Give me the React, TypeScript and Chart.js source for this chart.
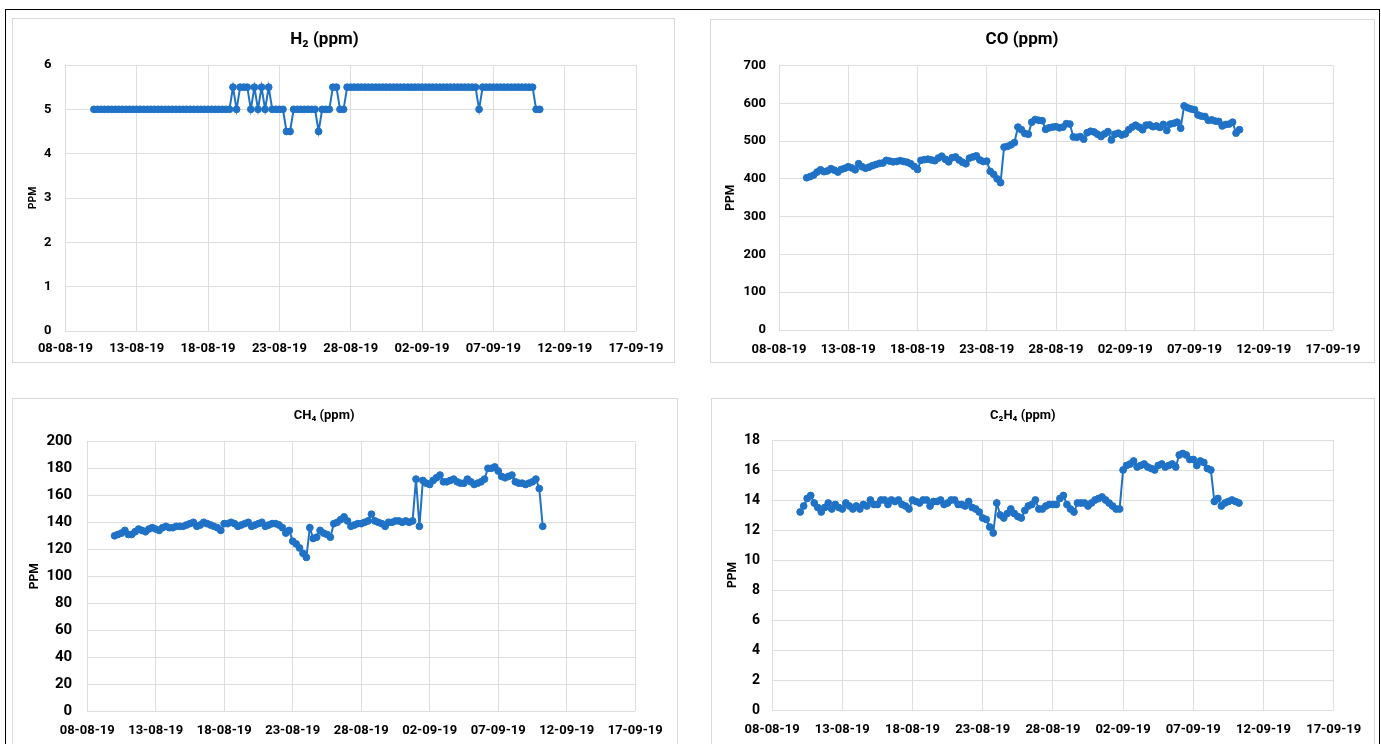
import React, { useEffect, useRef } from "react";
import { Chart, registerables } from "chart.js";

Chart.register(...registerables);

// ---------- data ----------
const xTickLabels = [
  "08-08-19", "13-08-19", "18-08-19", "23-08-19", "28-08-19",
  "02-09-19", "07-09-19", "12-09-19", "17-09-19",
];
// x axis is "days after 08-08-19"; readings every 6 h starting 10-08-19
const firstSampleDay = 2;
const sampleStepDays = 0.25;

const h2Values = [
  5, 5, 5, 5,   5, 5, 5, 5,   5, 5, 5, 5,   5, 5, 5, 5,
  5, 5, 5, 5,   5, 5, 5, 5,   5, 5, 5, 5,   5, 5, 5, 5,
  5, 5, 5, 5,   5, 5, 5, 5.5, 5, 5.5, 5.5, 5.5, 5, 5.5, 5, 5.5,
  5, 5.5, 5, 5, 5, 5, 4.5, 4.5, 5, 5, 5, 5,  5, 5, 5, 4.5,
  5, 5, 5, 5.5, 5.5, 5, 5, 5.5, 5.5, 5.5, 5.5, 5.5, 5.5, 5.5, 5.5, 5.5,
  5.5, 5.5, 5.5, 5.5, 5.5, 5.5, 5.5, 5.5, 5.5, 5.5, 5.5, 5.5, 5.5, 5.5, 5.5, 5.5,
  5.5, 5.5, 5.5, 5.5, 5.5, 5.5, 5.5, 5.5, 5.5, 5.5, 5.5, 5.5, 5, 5.5, 5.5, 5.5,
  5.5, 5.5, 5.5, 5.5, 5.5, 5.5, 5.5, 5.5, 5.5, 5.5, 5.5, 5.5, 5, 5,
];

const coValues = [
  403, 406, 410, 418,
  424, 419, 421, 427,
  423, 418, 425, 428,
  432, 429, 424, 440,
  432, 428, 431, 435,
  438, 441, 442, 449,
  447, 445, 446, 448,
  446, 444, 440, 433,
  425, 449, 451, 452,
  450, 448, 455, 460,
  452, 445, 456, 458,
  450, 444, 440, 455,
  458, 461, 450, 446,
  447, 420, 412, 400,
  390, 484, 486, 490,
  496, 537, 530, 520,
  518, 550, 557, 555,
  554, 531, 535, 537,
  538, 535, 537, 546,
  545, 511, 510, 512,
  505, 522, 526, 524,
  518, 512, 519, 525,
  503, 518, 521, 516,
  519, 530, 537, 542,
  537, 530, 542, 543,
  538, 540, 536, 544,
  528, 545, 547, 550,
  534, 593, 588, 585,
  583, 569, 566, 565,
  555, 556, 553, 552,
  540, 544, 545, 550,
  521, 530,
];

const ch4Values = [
  130, 131, 132, 134,
  131, 131, 133, 135,
  134, 133, 135, 136,
  135, 134, 136, 137,
  136, 136, 137, 137,
  137, 138, 139, 140,
  137, 138, 140, 139,
  138, 137, 136, 134,
  139, 139, 140, 139,
  137, 138, 139, 140,
  137, 138, 139, 140,
  137, 138, 139, 139,
  138, 136, 132, 134,
  126, 124, 121, 117,
  114, 136, 128, 129,
  134, 132, 131, 129,
  139, 140, 142, 144,
  141, 137, 138, 139,
  139, 140, 141, 146,
  141, 140, 139, 137,
  140, 140, 141, 141,
  140, 141, 140, 141,
  172, 137, 171, 169,
  168, 171, 173, 175,
  170, 170, 171, 172,
  170, 169, 169, 172,
  170, 168, 169, 170,
  172, 180, 180, 181,
  178, 174, 173, 174,
  175, 170, 169, 169,
  168, 169, 170, 172,
  165, 137,
];

const c2h4Values = [
  13.2, 13.6, 14.1, 14.3,
  13.8, 13.5, 13.2, 13.5,
  13.8, 13.4, 13.7, 13.5,
  13.4, 13.8, 13.6, 13.4,
  13.6, 13.4, 13.7, 13.6,
  14.0, 13.7, 13.7, 14.0,
  14.0, 13.7, 14.0, 13.9,
  14.0, 13.7, 13.6, 13.4,
  14.0, 13.9, 13.8, 14.0,
  14.0, 13.6, 13.9, 13.9,
  14.0, 13.7, 13.8, 14.0,
  14.0, 13.7, 13.7, 13.6,
  13.9, 13.5, 13.4, 13.2,
  12.8, 12.7, 12.2, 11.8,
  13.8, 13.0, 12.8, 13.1,
  13.4, 13.1, 12.9, 12.8,
  13.3, 13.6, 13.7, 14.0,
  13.4, 13.4, 13.6, 13.7,
  13.7, 13.7, 14.1, 14.3,
  13.7, 13.4, 13.2, 13.8,
  13.8, 13.8, 13.6, 13.8,
  14.0, 14.1, 14.2, 14.0,
  13.8, 13.6, 13.4, 13.4,
  16.0, 16.3, 16.4, 16.6,
  16.2, 16.3, 16.4, 16.2,
  16.1, 16.0, 16.3, 16.4,
  16.2, 16.3, 16.4, 16.2,
  17.0, 17.1, 17.0, 16.7,
  16.7, 16.3, 16.6, 16.5,
  16.1, 16.0, 13.9, 14.1,
  13.6, 13.8, 13.9, 14.0,
  13.9, 13.8,
];

// ---------- styling / layout ----------
const FONT = "Roboto, 'Open Sans', 'DejaVu Sans', sans-serif";
const BLUE = "#1f72c6";
const GRID = "#dedede";

type PanelCfg = {
  values: number[];
  title: string;
  yMax: number;
  yStep: number;
  box: { left: number; top: number; width: number; height: number };
  yWidth: number;
  padRight: number;
  xHeight: number;
  titleSize: number;
  titlePadTop: number;
  titlePadBottom: number;
  yTickSize: number;
  yTickPad: number;
  xTickPad: number;
  ppmSize: number;
  ppmPad: number;
};

const panels: PanelCfg[] = [
  {
    values: h2Values, title: "H\u2082 (ppm)", yMax: 6, yStep: 1,
    box: { left: 12, top: 18, width: 663, height: 345 },
    yWidth: 52.4, padRight: 38, xHeight: 31,
    titleSize: 17, titlePadTop: 10.1, titlePadBottom: 15.5,
    yTickSize: 13, yTickPad: 14, xTickPad: 10, ppmSize: 10.5, ppmPad: 13.7,
  },
  {
    values: coValues, title: "CO (ppm)", yMax: 700, yStep: 100,
    box: { left: 710, top: 19, width: 665, height: 344 },
    yWidth: 68, padRight: 41, xHeight: 32,
    titleSize: 17, titlePadTop: 9.8, titlePadBottom: 15.3,
    yTickSize: 13, yTickPad: 13, xTickPad: 12, ppmSize: 12, ppmPad: 12.8,
  },
  {
    values: ch4Values, title: "CH\u2084 (ppm)", yMax: 200, yStep: 20,
    box: { left: 12, top: 398, width: 666, height: 362 },
    yWidth: 74.2, padRight: 41.8, xHeight: 47.7,
    titleSize: 13, titlePadTop: 9, titlePadBottom: 17.7,
    yTickSize: 15, yTickPad: 15, xTickPad: 12, ppmSize: 12, ppmPad: 14.4,
  },
  {
    values: c2h4Values, title: "C\u2082H\u2084 (ppm)", yMax: 18, yStep: 2,
    box: { left: 711, top: 398, width: 664, height: 362 },
    yWidth: 60.1, padRight: 40.3, xHeight: 49,
    titleSize: 13, titlePadTop: 9.2, titlePadBottom: 16.2,
    yTickSize: 14, yTickPad: 12, xTickPad: 12, ppmSize: 12, ppmPad: 13.8,
  },
];

function ChartPanel({ cfg }: { cfg: PanelCfg }) {
  const ref = useRef<HTMLCanvasElement>(null);
  const cw = cfg.box.width - 2;
  const ch = cfg.box.height - 2;

  useEffect(() => {
    const points = cfg.values.map((v, i) => ({
      x: firstSampleDay + i * sampleStepDays,
      y: v,
    }));
    const chart = new Chart(ref.current as HTMLCanvasElement, {
      type: "line",
      data: {
        datasets: [
          {
            data: points,
            borderColor: BLUE,
            backgroundColor: BLUE,
            borderWidth: 2,
            pointRadius: 3.4,
            pointBorderWidth: 1,
            pointBackgroundColor: BLUE,
            pointBorderColor: BLUE,
            tension: 0,
            fill: false,
          },
        ],
      },
      options: {
        animation: false,
        responsive: false,
        devicePixelRatio: 1,
        layout: { padding: { left: 0, top: 0, right: cfg.padRight, bottom: 0 } },
        plugins: {
          legend: { display: false },
          tooltip: { enabled: false },
          title: {
            display: true,
            text: cfg.title,
            color: "#000",
            font: { family: FONT, size: cfg.titleSize, weight: "bold", lineHeight: 1.2 },
            padding: { top: cfg.titlePadTop, bottom: cfg.titlePadBottom },
          },
        },
        scales: {
          x: {
            type: "linear",
            min: 0,
            max: 40,
            afterFit: (s: any) => {
              s.height = cfg.xHeight;
            },
            grid: { color: GRID, lineWidth: 1, drawTicks: false },
            border: { display: false },
            ticks: {
              stepSize: 5,
              autoSkip: false,
              maxRotation: 0,
              padding: cfg.xTickPad,
              color: "#000",
              font: { family: FONT, size: 13, weight: "bold" },
              callback: (_v: any, i: number) => xTickLabels[i],
            },
          },
          y: {
            type: "linear",
            min: 0,
            max: cfg.yMax,
            afterFit: (s: any) => {
              s.width = cfg.yWidth;
            },
            grid: { color: GRID, lineWidth: 1, drawTicks: false },
            border: { display: false },
            ticks: {
              stepSize: cfg.yStep,
              padding: cfg.yTickPad,
              color: "#000",
              font: { family: FONT, size: cfg.yTickSize, weight: "bold" },
            },
            title: {
              display: true,
              text: "PPM",
              color: "#000",
              font: { family: FONT, size: cfg.ppmSize, weight: "bold", lineHeight: 1.2 },
              padding: { top: cfg.ppmPad, bottom: 0 },
            },
          },
        },
      },
    } as any);
    return () => chart.destroy();
  }, []);

  return (
    <div
      style={{
        position: "absolute",
        left: cfg.box.left,
        top: cfg.box.top,
        width: cfg.box.width,
        height: cfg.box.height,
        border: "1px solid #d9d9d9",
        boxSizing: "border-box",
        background: "#fff",
      }}
    >
      <canvas
        ref={ref}
        width={cw}
        height={ch}
        style={{ position: "absolute", left: 0, top: 0, width: cw, height: ch }}
      />
    </div>
  );
}

export default function App() {
  return (
    <div
      style={{
        position: "fixed",
        left: 0,
        top: 0,
        width: 1381,
        height: 744,
        overflow: "hidden",
        background: "#fff",
      }}
    >
      <div
        style={{
          position: "absolute",
          left: 5,
          top: 9,
          width: 1375,
          height: 800,
          borderLeft: "1.5px solid #000",
          borderTop: "1.5px solid #000",
          borderRight: "1.5px solid #000",
          boxSizing: "border-box",
        }}
      />
      {panels.map((p, i) => (
        <ChartPanel key={i} cfg={p} />
      ))}
    </div>
  );
}
